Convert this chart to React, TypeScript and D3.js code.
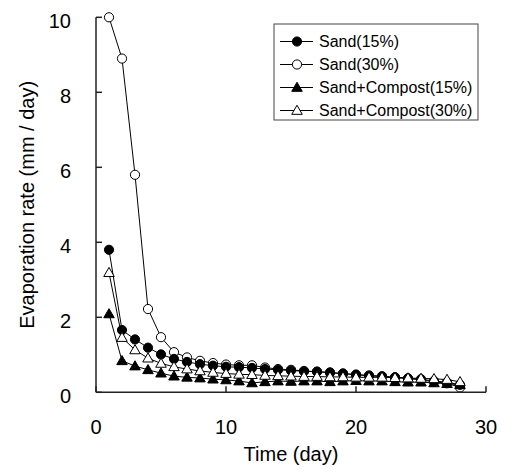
import React from 'react'
import * as d3 from 'd3'

// days of measurement
const days = d3.range(1, 29)

const sand15 = [3.8, 1.66, 1.41, 1.19, 1.01, 0.89, 0.81, 0.75, 0.71, 0.68, 0.67, 0.65, 0.62, 0.6, 0.58, 0.56, 0.55, 0.53, 0.5, 0.47, 0.44, 0.42, 0.4, 0.37, 0.35, 0.3, 0.27, 0.2]
const sand30 = [10.0, 8.9, 5.8, 2.22, 1.47, 1.07, 0.93, 0.84, 0.78, 0.74, 0.72, 0.72, 0.66, 0.62, 0.6, 0.57, 0.55, 0.52, 0.5, 0.47, 0.45, 0.43, 0.4, 0.37, 0.33, 0.28, 0.24, 0.13]
const compost15 = [2.09, 0.84, 0.7, 0.6, 0.51, 0.43, 0.4, 0.38, 0.35, 0.33, 0.3, 0.25, 0.28, 0.3, 0.29, 0.3, 0.3, 0.28, 0.3, 0.31, 0.3, 0.3, 0.28, 0.27, 0.27, 0.25, 0.23, 0.2]
const compost30 = [3.19, 1.46, 1.13, 0.91, 0.77, 0.68, 0.62, 0.57, 0.53, 0.5, 0.48, 0.47, 0.45, 0.44, 0.43, 0.42, 0.42, 0.41, 0.41, 0.4, 0.4, 0.4, 0.39, 0.38, 0.37, 0.36, 0.34, 0.28]

const xTicks = [0, 10, 20, 30]
const yTicks = [0, 2, 4, 6, 8, 10]

const seriesNames = ['Sand(15%)', 'Sand(30%)', 'Sand+Compost(15%)', 'Sand+Compost(30%)']

type Marker = 'circleFill' | 'circleOpen' | 'triFill' | 'triOpen'

const series: { name: string; values: number[]; marker: Marker }[] = [
  { name: seriesNames[0], values: sand15, marker: 'circleFill' },
  { name: seriesNames[1], values: sand30, marker: 'circleOpen' },
  { name: seriesNames[2], values: compost15, marker: 'triFill' },
  { name: seriesNames[3], values: compost30, marker: 'triOpen' },
]
// draw order for the markers (later on top)
const drawOrder = [1, 0, 2, 3]

const width = 505
const height = 473
const left = 96
const right = 486
const top = 17.3
const bottom = 392.3
const font = '"Liberation Sans", Arial, sans-serif'

const triPath = d3.symbol().type(d3.symbolTriangle).size(48)()

const MarkerShape = ({ kind, x, y }: { kind: Marker; x: number; y: number }) => {
  if (kind === 'circleFill' || kind === 'circleOpen') {
    return <circle cx={x} cy={y} r={4.6} fill={kind === 'circleFill' ? '#000' : '#fff'} stroke="#000" strokeWidth={1} />
  }
  return (
    <path
      d={triPath as string}
      transform={`translate(${x},${y + 0.8})`}
      fill={kind === 'triFill' ? '#000' : '#fff'}
      stroke="#000"
      strokeWidth={1}
    />
  )
}

export default function App() {
  const xScale = d3.scaleLinear().domain([0, 30]).range([left, right])
  const yScale = d3.scaleLinear().domain([0, 10]).range([bottom, top])

  const line = d3.line<number>()
    .x((_, i) => xScale(days[i]))
    .y(v => yScale(v))

  const legendX = 274
  const legendY = 24
  const rowGap = 23

  return (
    <svg width={width} height={height} style={{ position: 'absolute', left: 0, top: 0, background: '#fff' }}>
      {/* lines */}
      {series.map(s => (
        <path key={s.name} d={line(s.values) || ''} fill="none" stroke="#000" strokeWidth={1} />
      ))}
      {/* markers */}
      {drawOrder.map(k => (
        <g key={series[k].name}>
          {series[k].values.map((v, i) => (
            <MarkerShape key={i} kind={series[k].marker} x={xScale(days[i])} y={yScale(v)} />
          ))}
        </g>
      ))}

      {/* axes */}
      <g stroke="#222" strokeWidth={1.5} fill="none">
        <line x1={left} x2={left} y1={top} y2={bottom} />
        <line x1={left} x2={right} y1={bottom} y2={bottom} />
        {yTicks.map(t => (
          <line key={'y' + t} x1={left} x2={left + 6} y1={yScale(t)} y2={yScale(t)} />
        ))}
        {xTicks.map(t => (
          <line key={'x' + t} x1={xScale(t)} x2={xScale(t)} y1={bottom} y2={bottom - 6} />
        ))}
      </g>
      <g fontFamily={font} fontSize={20} fill="#000">
        {yTicks.map(t => (
          <text key={'yl' + t} x={left - 25} y={yScale(t)} dy="0.52em" textAnchor="end">{t}</text>
        ))}
        {xTicks.map(t => (
          <text key={'xl' + t} x={xScale(t)} y={bottom + 42} textAnchor="middle">{t}</text>
        ))}
        <text x={(left + right) / 2} y={461} textAnchor="middle">Time (day)</text>
        <text
          transform={`translate(27,${(top + bottom) / 2}) rotate(-90)`}
          dy="0.35em"
          textAnchor="middle"
        >Evaporation rate (mm / day)</text>
      </g>

      {/* legend */}
      <rect x={legendX} y={legendY} width={204} height={96} fill="#fff" stroke="#444" strokeWidth={1} />
      {series.map((s, i) => {
        const cy = legendY + 17.5 + i * rowGap
        return (
          <g key={'lg' + s.name}>
            <line x1={legendX + 6} x2={legendX + 39} y1={cy} y2={cy} stroke="#000" strokeWidth={1} />
            <MarkerShape kind={s.marker} x={legendX + 23} y={cy} />
            <text x={legendX + 45} y={cy} dy="0.35em" fontFamily={font} fontSize={16}>{s.name}</text>
          </g>
        )
      })}
    </svg>
  )
}
